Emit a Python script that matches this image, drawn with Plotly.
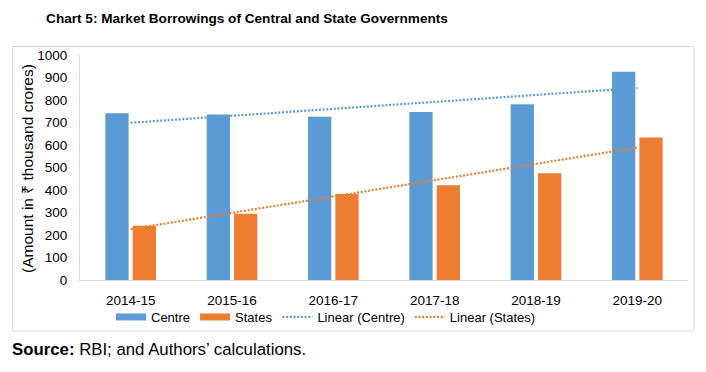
import numpy as np
import plotly.graph_objects as go

categories = ["2014-15", "2015-16", "2016-17", "2017-18", "2018-19", "2019-20"]
centre = [741, 736, 726, 747, 781, 926]
states = [241, 294, 382, 421, 474, 633]
y_ticks = list(range(0, 1001, 100))

BLUE = "#5B9BD5"
ORANGE = "#ED7D31"
GRID = "#D9D9D9"
FONT = "Liberation Sans, Arial, sans-serif"

# linear trendlines (least squares, as in Excel)
xi = np.arange(1, len(categories) + 1)
c_fit = np.polyval(np.polyfit(xi, centre, 1), xi)
s_fit = np.polyval(np.polyfit(xi, states, 1), xi)

DASH = "2px,1.7px"

fig = go.Figure()
fig.add_trace(go.Bar(x=categories, y=centre, name="Centre", marker_color=BLUE,
                     marker_line_width=0, showlegend=False))
fig.add_trace(go.Bar(x=categories, y=states, name="States", marker_color=ORANGE,
                     marker_line_width=0, showlegend=False))
fig.add_trace(go.Scatter(x=categories, y=c_fit, mode="lines", name="Linear (Centre)",
                         line=dict(color=BLUE, width=2.2, dash=DASH), showlegend=False))
fig.add_trace(go.Scatter(x=categories, y=s_fit, mode="lines", name="Linear (States)",
                         line=dict(color=ORANGE, width=2.2, dash=DASH), showlegend=False))

# legend entries
fig.add_trace(go.Scatter(x=[None], y=[None], mode="lines", name="Centre",
                         line=dict(color=BLUE, width=7)))
fig.add_trace(go.Scatter(x=[None], y=[None], mode="lines", name="States",
                         line=dict(color=ORANGE, width=7)))
fig.add_trace(go.Scatter(x=[None], y=[None], mode="lines", name="Linear (Centre)",
                         line=dict(color=BLUE, width=2.2, dash=DASH)))
fig.add_trace(go.Scatter(x=[None], y=[None], mode="lines", name="Linear (States)",
                         line=dict(color=ORANGE, width=2.2, dash=DASH)))

L, R, T, B = 80, 18, 55, 92
W, H = 706, 372
pw = W - L - R
ph = H - T - B

def px_x(p):
    return (p - L) / pw

def px_y(p):
    return (H - B - p) / ph

fig.update_layout(
    width=W, height=H,
    margin=dict(l=L, r=R, t=T, b=B, autoexpand=False),
    paper_bgcolor="white", plot_bgcolor="white",
    font=dict(family=FONT, color="#000000", size=13),
    barmode="group", bargap=0.46, bargroupgap=0.15,
    title=dict(text="<b>Chart 5: Market Borrowings of Central and State Governments</b>",
               font=dict(family=FONT, size=13.6, color="#000000"),
               x=247 / W, xanchor="center", xref="container",
               y=1 - 18 / H, yanchor="middle", yref="container"),
    xaxis=dict(showline=True, linecolor=GRID, linewidth=1, showgrid=False,
               ticks="", ticklabelstandoff=8, tickfont=dict(size=13.5), fixedrange=True,
               automargin=False),
    yaxis=dict(range=[0, 1000], tickvals=y_ticks, showline=True, linecolor=GRID,
               linewidth=1, showgrid=False, ticks="", ticklabelstandoff=9,
               tickfont=dict(size=13.5), zeroline=False, automargin=False,
               fixedrange=True),
    legend=dict(orientation="h", x=px_x(326), xanchor="center", y=px_y(317), yanchor="middle",
                font=dict(family=FONT, size=13), bgcolor="rgba(0,0,0,0)",
                itemwidth=30, tracegroupgap=0),
    shapes=[dict(type="rect", xref="paper", yref="paper",
                 x0=px_x(12.5), x1=px_x(694), y0=px_y(331), y1=px_y(46.5),
                 line=dict(color=GRID, width=1), fillcolor="rgba(0,0,0,0)", layer="below")],
    annotations=[
        dict(text="<b>Source:</b> RBI; and Authors’ calculations.",
             xref="paper", yref="paper", x=px_x(10), y=px_y(349),
             xanchor="left", yanchor="middle", showarrow=False,
             font=dict(size=16.8, family=FONT)),
        dict(text="(Amount in ₹ thousand crores)", textangle=-90,
             xref="paper", yref="paper", x=px_x(27), y=px_y(169),
             xanchor="center", yanchor="middle", showarrow=False,
             font=dict(size=15.5, family=FONT)),
    ],
)

fig.write_html("out.html", config={"displayModeBar": False},
               post_script="document.body.style.margin='0';document.body.style.overflow='hidden';")
